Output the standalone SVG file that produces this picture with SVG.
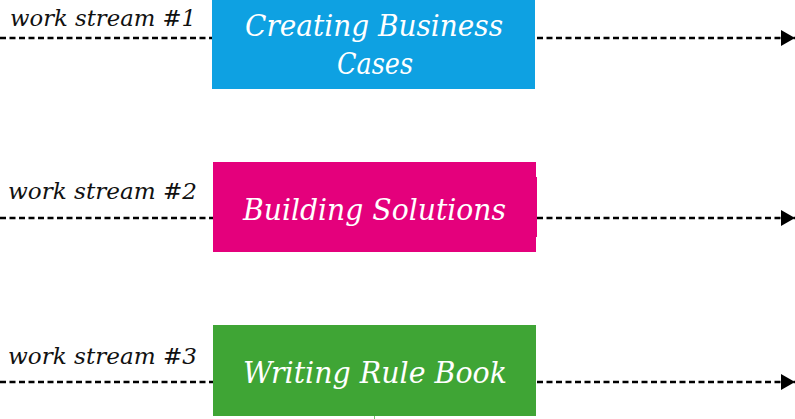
<svg xmlns="http://www.w3.org/2000/svg" width="795" height="419" viewBox="0 0 795 419">
  <style>
    .lbl { font-family: "DejaVu Serif", "Liberation Serif", serif; font-style: italic; font-size: 23px; fill: #111; }
    .box-text { font-family: "DejaVu Serif", "Liberation Serif", serif; font-style: italic; font-size: 29px; fill: #ffffff; }
    .flow { stroke: #000; stroke-width: 2.6; stroke-dasharray: 6 3.5; fill: none; }
  </style>
  <defs>
    <marker id="arrow" markerUnits="userSpaceOnUse" markerWidth="14" markerHeight="16" refX="14" refY="8" orient="auto">
      <path d="M0,0 L14,8 L0,16 Z" fill="#000"/>
    </marker>
  </defs>
  <rect width="795" height="419" fill="#ffffff"/>

  <g id="connectors">
    <line class="flow" x1="0" y1="38" x2="212" y2="38"/>
    <line class="flow" x1="537" y1="38" x2="795" y2="38" marker-end="url(#arrow)"/>
    <line class="flow" x1="0" y1="218" x2="213" y2="218"/>
    <line class="flow" x1="537" y1="218" x2="795" y2="218" marker-end="url(#arrow)"/>
    <line class="flow" x1="0" y1="382" x2="213" y2="382"/>
    <line class="flow" x1="537" y1="382" x2="795" y2="382" marker-end="url(#arrow)"/>
  </g>

  <g id="label1">
    <text class="lbl" x="10" y="26" textLength="186" lengthAdjust="spacingAndGlyphs">work stream #1</text>
  </g>
  <g id="label2">
    <text class="lbl" x="8" y="199" textLength="189" lengthAdjust="spacingAndGlyphs">work stream #2</text>
  </g>
  <g id="label3">
    <text class="lbl" x="8" y="364" textLength="189" lengthAdjust="spacingAndGlyphs">work stream #3</text>
  </g>

  <g id="node1">
    <rect x="212" y="0" width="323" height="89" fill="#0EA1E2"/>
    <text class="box-text" x="245" y="36" textLength="258" lengthAdjust="spacingAndGlyphs">Creating Business</text>
    <text class="box-text" x="337" y="74" textLength="76" lengthAdjust="spacingAndGlyphs">Cases</text>
  </g>

  <g id="node2">
    <rect x="213" y="162" width="323" height="90" fill="#E4007C"/>
    <rect x="535" y="177" width="2" height="60" fill="#E4007C"/>
    <text class="box-text" x="243" y="220" textLength="263" lengthAdjust="spacingAndGlyphs">Building Solutions</text>
  </g>

  <g id="node3">
    <rect x="213" y="325" width="323" height="91" fill="#3FA535"/>
    <text class="box-text" x="243" y="383" textLength="264" lengthAdjust="spacingAndGlyphs">Writing Rule Book</text>
    <line x1="374.5" y1="416" x2="374.5" y2="419" stroke="#7DBF73" stroke-width="1"/>
  </g>
</svg>
